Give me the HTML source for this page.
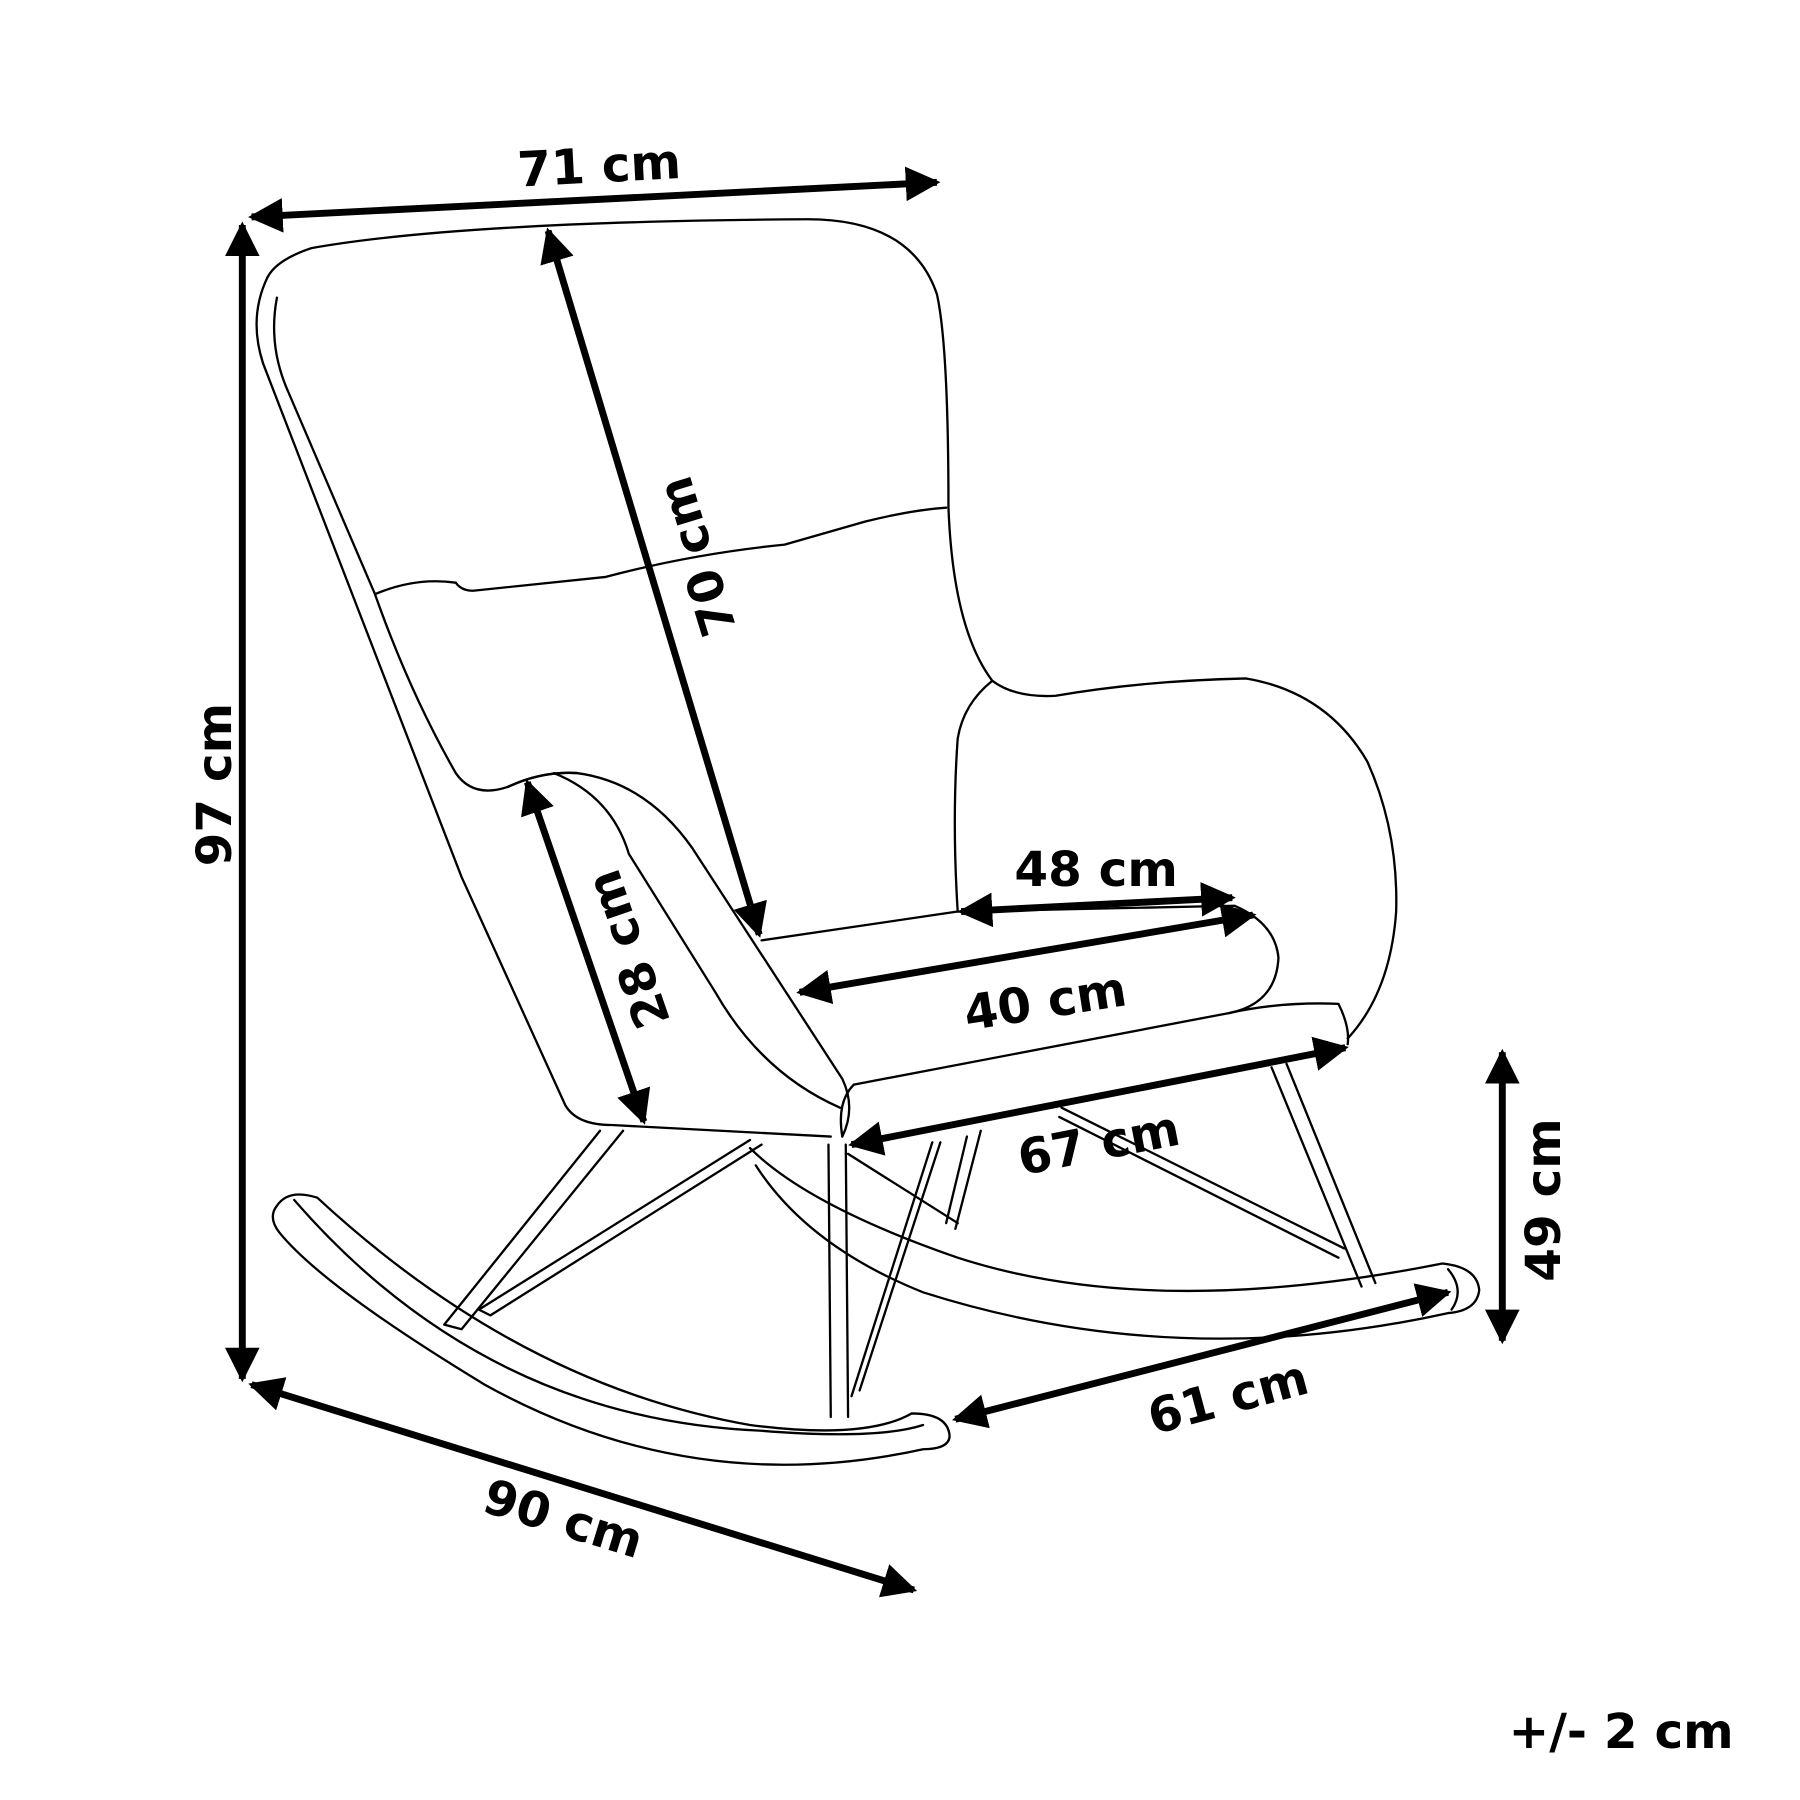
<!DOCTYPE html>
<html><head><meta charset="utf-8"><style>
html,body{margin:0;padding:0;background:#fff}
svg{display:block}
text{font-family:"DejaVu Sans","Liberation Sans",sans-serif;font-weight:bold;fill:#000}
</style></head><body>
<svg width="1800" height="1800" viewBox="0 0 1560 1560" xmlns="http://www.w3.org/2000/svg">
<defs>
<marker id="a" viewBox="0 0 10 10" refX="9" refY="5" markerWidth="5" markerHeight="5" orient="auto-start-reverse" markerUnits="strokeWidth"><path d="M0,0 L10,5 L0,10 z" fill="#000"/></marker>
</defs>
<g fill="none" stroke="#000" stroke-width="2" stroke-linejoin="round" stroke-linecap="round">
<path d="M232,240 Q215,275 228,315 L400,760 L490,958 Q500,975 530,975 L720,985"/>
<path d="M232,240 Q240,225 270,215 Q400,192 700,190 Q790,190 812,255 Q822,300 822,440 Q826,545 860,590"/>
<path d="M240,258 Q232,300 250,340 L325,515 Q355,600 395,670 Q410,692 440,682 Q470,668 500,670"/>
<path d="M325,515 Q360,500 395,505 Q400,512 410,512 L525,500 Q600,480 680,472 L750,452 Q790,442 820,440"/>
<path d="M860,590 Q880,605 915,603 Q990,590 1080,588 Q1150,600 1185,660 Q1212,720 1210,790 Q1205,860 1168,900"/>
<path d="M860,590 Q835,610 830,640 Q825,710 830,790"/>
<path d="M440,682 Q470,668 500,670 Q560,678 600,735 L730,935 Q742,960 730,985"/>
<path d="M480,670 Q530,690 545,740 L620,860 Q660,930 728,960"/>
<path d="M660,815 L830,790 L1070,785 Q1105,800 1108,830 Q1106,870 1065,878 L740,940"/>
<path d="M1065,878 Q1110,868 1160,870 Q1170,890 1168,905"/>
<path d="M740,940 Q725,955 730,985"/>
<path d="M240,1045 Q250,1030 275,1038 Q450,1200 650,1235 Q750,1248 790,1225 Q822,1225 823,1245 Q822,1256 800,1256 Q600,1300 420,1200 Q280,1115 242,1068 Q232,1055 240,1045 Z"/>
<path d="M255,1040 Q420,1230 660,1240 Q760,1248 800,1235"/>
<path d="M650,995 Q700,1045 830,1090 Q1000,1145 1250,1095 Q1280,1098 1282,1118 Q1280,1136 1255,1138 Q1020,1190 800,1120 Q700,1080 655,1010"/>
<path d="M1255,1100 Q1270,1118 1258,1135"/>
<path d="M520,980 L385,1148 L400,1152 L540,980"/>
<path d="M650,988 L415,1135 L425,1140 L660,992"/>
<path d="M718,992 L720,1228 M733,992 L735,1228"/>
<path d="M808,990 L738,1210 M815,990 L745,1205"/>
<path d="M1102,925 L1180,1115 M1115,922 L1192,1112"/>
<path d="M920,960 L1165,1082 M918,968 L1160,1090"/>
<path d="M838,985 L820,1060 M850,980 L828,1065"/>
<path d="M735,1000 L830,1060"/>
</g>
<g stroke="#000" stroke-width="6" fill="none" marker-start="url(#a)" marker-end="url(#a)">
<line x1="218" y1="188" x2="812" y2="158"/>
<line x1="210" y1="195" x2="210" y2="1195"/>
<line x1="475" y1="200" x2="658" y2="810"/>
<line x1="457" y1="678" x2="558" y2="972"/>
<line x1="833" y1="790" x2="1068" y2="778"/>
<line x1="693" y1="860" x2="1086" y2="793"/>
<line x1="738" y1="992" x2="1166" y2="908"/>
<line x1="828" y1="1230" x2="1255" y2="1120"/>
<line x1="218" y1="1200" x2="792" y2="1378"/>
<line x1="1302" y1="912" x2="1302" y2="1162"/>
</g>
<g font-size="42">
<text x="520" y="158" text-anchor="middle" transform="rotate(-3 520 158)">71 cm</text>
<text transform="translate(200,680) rotate(-90)" text-anchor="middle">97 cm</text>
<text transform="translate(618,478) rotate(-107)" text-anchor="middle">70 cm</text>
<text transform="translate(558,818) rotate(-109)" text-anchor="middle">28 cm</text>
<text x="950" y="768" text-anchor="middle">48 cm</text>
<text transform="translate(908,882) rotate(-9)" text-anchor="middle">40 cm</text>
<text transform="translate(955,1005) rotate(-11)" text-anchor="middle">67 cm</text>
<text transform="translate(1068,1225) rotate(-15)" text-anchor="middle">61 cm</text>
<text transform="translate(484,1330) rotate(17)" text-anchor="middle">90 cm</text>
<text transform="translate(1352,1040) rotate(-90)" text-anchor="middle">49 cm</text>
<text x="1405" y="1515" text-anchor="middle">+/- 2 cm</text>
</g>
</svg>
</body></html>
